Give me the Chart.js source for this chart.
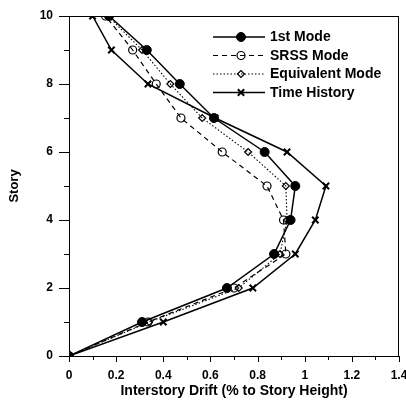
<!DOCTYPE html>
<html>
<head>
<meta charset="utf-8">
<script src="https://cdn.jsdelivr.net/npm/chart.js@4/dist/chart.umd.min.js"></script>
<style>
html,body{margin:0;padding:0;background:#fff;}
#wrap{width:406px;height:404px;position:relative;}
</style>
</head>
<body>
<div id="wrap"><canvas id="c" width="406" height="404"></canvas></div>
<script>
const stories = [0, 1, 2, 3, 4, 5, 6, 7, 8, 9, 10];
const firstMode   = [0, 0.31, 0.67, 0.87, 0.94, 0.96, 0.83, 0.615, 0.47, 0.33, 0.17];
const srssMode    = [0, 0.335, 0.70, 0.92, 0.91, 0.84, 0.65, 0.475, 0.37, 0.27, 0.155];
const equivMode   = [0, 0.34, 0.72, 0.895, 0.925, 0.92, 0.76, 0.565, 0.43, 0.31, 0.165];
const timeHistory = [0, 0.40, 0.78, 0.96, 1.045, 1.09, 0.925, 0.62, 0.335, 0.18, 0.10];
const seriesNames = ['1st Mode', 'SRSS Mode', 'Equivalent Mode', 'Time History'];
const xTitle = 'Interstory Drift (% to Story Height)';
const yTitle = 'Story';

const toPts = arr => arr.map((v, i) => ({x: v, y: stories[i]}));

const FONT = '"Liberation Sans", Arial, sans-serif';

const frameAndTicks = {
  id: 'frameAndTicks',
  afterDraw(chart) {
    const {ctx, chartArea: a, scales: {x, y}} = chart;
    ctx.save();
    ctx.strokeStyle = '#000';
    ctx.lineWidth = 1;
    ctx.strokeRect(Math.round(a.left) + 0.5, Math.round(a.top) + 0.5, Math.round(a.right - a.left) - 1, Math.round(a.bottom - a.top));
    ctx.beginPath();
    for (let i = 0; i <= 14; i++) {
      const px = Math.round(x.getPixelForValue(i / 10)) + 0.5;
      const len = (i % 2 === 0) ? 6 : 4;
      ctx.moveTo(px, a.bottom);
      ctx.lineTo(px, a.bottom + len);
    }
    for (let i = 0; i <= 10; i++) {
      const py = Math.round(y.getPixelForValue(i)) + 0.5;
      const len = (i % 2 === 0) ? 10 : 5;
      ctx.moveTo(a.left, py);
      ctx.lineTo(a.left - len, py);
    }
    ctx.stroke();
    ctx.restore();
  },
  afterDatasetsDraw(chart) {
    const {ctx} = chart;
    const x0 = 213, x1 = 265, xm = 241, tx = 270;
    const rows = [37, 55.5, 74, 92.5];
    ctx.save();
    chart.data.datasets.forEach((ds, i) => {
      const yy = rows[i];
      ctx.strokeStyle = '#000';
      ctx.lineWidth = ds.borderWidth;
      ctx.setLineDash(ds.borderDash || []);
      ctx.beginPath();
      ctx.moveTo(x0, yy);
      ctx.lineTo(x1, yy);
      ctx.stroke();
      ctx.setLineDash([]);
      ctx.fillStyle = ds.pointBackgroundColor;
      ctx.strokeStyle = '#000';
      ctx.lineWidth = ds.pointBorderWidth;
      Chart.helpers.drawPoint(ctx, {pointStyle: ds.pointStyle, radius: ds.pointRadius, rotation: 0, borderWidth: ds.pointBorderWidth}, xm, yy);
      ctx.fillStyle = '#000';
      ctx.font = 'bold 14px ' + FONT;
      ctx.textBaseline = 'middle';
      ctx.textAlign = 'left';
      ctx.fillText(ds.label, tx, yy + 0.5);
    });
    ctx.restore();
  }
};

const mk = (label, data, style) => Object.assign({
  label, data: toPts(data), showLine: true, borderColor: '#000', pointBorderColor: '#000'
}, style);

new Chart(document.getElementById('c'), {
  type: 'scatter',
  data: {
    datasets: [
      mk(seriesNames[0], firstMode, {borderWidth: 1.5, pointStyle: 'circle', pointRadius: 4.5, pointBackgroundColor: '#000', pointBorderWidth: 1}),
      mk(seriesNames[1], srssMode, {borderWidth: 1.2, borderDash: [5, 4], pointStyle: 'circle', pointRadius: 4, pointBackgroundColor: 'rgba(0,0,0,0)', pointBorderWidth: 1.2}),
      mk(seriesNames[2], equivMode, {borderWidth: 1.1, borderDash: [1.5, 2], pointStyle: 'rectRot', pointRadius: 3.5, pointBackgroundColor: 'rgba(0,0,0,0)', pointBorderWidth: 1.2}),
      mk(seriesNames[3], timeHistory, {borderWidth: 1.5, pointStyle: 'crossRot', pointRadius: 4.5, pointBackgroundColor: '#000', pointBorderWidth: 2})
    ]
  },
  options: {
    responsive: false,
    animation: false,
    layout: {padding: {top: 16, right: 7, left: 0, bottom: 0}},
    plugins: {legend: {display: false}, tooltip: {enabled: false}},
    elements: {line: {tension: 0, fill: false}},
    scales: {
      x: {
        type: 'linear', min: 0, max: 1.4,
        grid: {display: false},
        border: {display: true, color: '#000', width: 1},
        ticks: {
          stepSize: 0.2, padding: 4, color: '#000',
          font: {family: FONT, size: 12, weight: 'bold'},
          maxRotation: 0, autoSkip: false,
          callback: v => String(Math.round(v * 10) / 10)
        },
        title: {display: true, text: xTitle, color: '#000', font: {family: FONT, size: 14, weight: 'bold'}, padding: {top: 0, bottom: 4}},
        afterFit(s) { s.height = 48; s.paddingLeft = 0; s.paddingRight = 0; }
      },
      y: {
        type: 'linear', min: 0, max: 10,
        grid: {display: false},
        border: {display: true, color: '#000', width: 1},
        ticks: {
          stepSize: 2, padding: 8, color: '#000',
          font: {family: FONT, size: 12, weight: 'bold'}
        },
        title: {display: true, text: yTitle, color: '#000', font: {family: FONT, size: 13, weight: 'bold'}, padding: {top: 7, bottom: 0}},
        afterFit(s) { s.width = 69; s.paddingTop = 0; s.paddingBottom = 0; }
      }
    }
  },
  plugins: [frameAndTicks]
});
</script>
</body>
</html>
